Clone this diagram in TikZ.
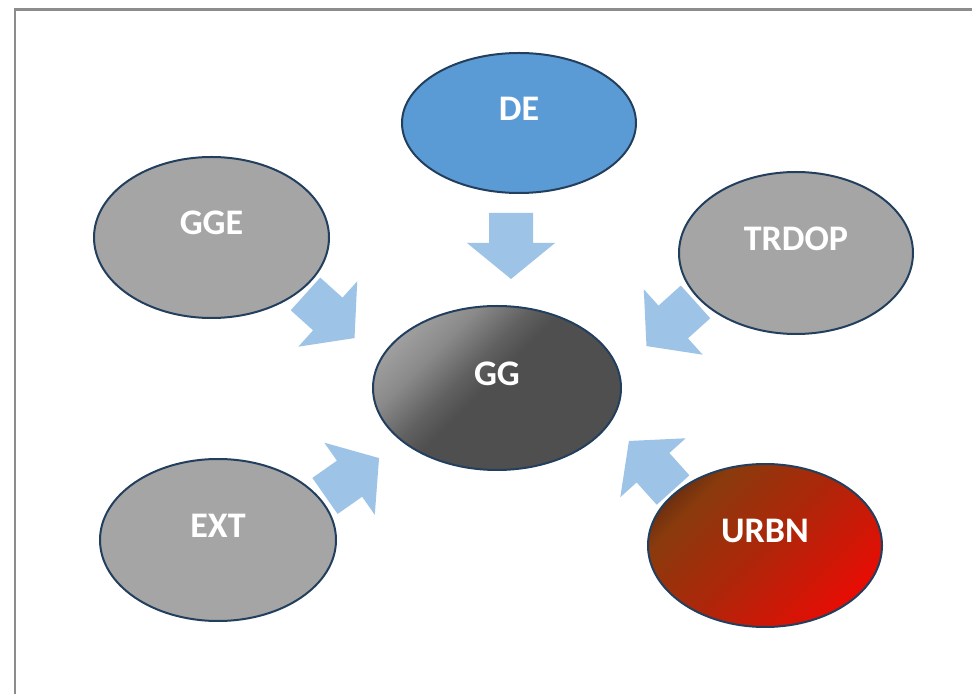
\documentclass[tikz,border=0pt]{standalone}
\usepackage{fontspec}
\setmainfont{Carlito}
\usetikzlibrary{shapes.geometric}
\definecolor{bubblegray}{HTML}{A5A5A5}
\definecolor{bubbleline}{HTML}{233F5E}
\definecolor{deblue}{HTML}{5B9BD5}
\definecolor{arrowblue}{HTML}{9DC3E6}
\definecolor{framegray}{HTML}{8C8C8C}
\pgfdeclarehorizontalshading{ggshading}{100bp}{color(0bp)=(black!30); color(20bp)=(black!33); color(33bp)=(black!46); color(42bp)=(black!62); color(48bp)=(black!69); color(100bp)=(black!69)}
\pgfdeclarehorizontalshading{urbnshading}{100bp}{rgb(0bp)=(0.30,0.14,0.07); rgb(20bp)=(0.34,0.15,0.07); rgb(30bp)=(0.54,0.23,0.05); rgb(50bp)=(0.68,0.15,0.04); rgb(70bp)=(0.86,0.07,0.02); rgb(84bp)=(1,0,0); rgb(100bp)=(1,0,0)}
\def\blockarrow(#1)(#2){\fill[arrowblue, shift={(#1)}, rotate=#2] (-33,-22) -- (-3,-22) -- (-3,-44) -- (33,0) -- (-3,44) -- (-3,22) -- (-33,22) -- cycle;}

\begin{document}
\begin{tikzpicture}[x=1pt, y=1pt,
	bubble/.style={ellipse, draw=bubbleline, line width=2pt, inner sep=0pt, text=white,
		font=\fontsize{36}{40}\selectfont\bfseries, text height=23pt, text depth=28pt},
	graybubble/.style={bubble, fill=bubblegray}]
			%%%%% START %%%%%
			\useasboundingbox (0,0) rectangle (972,694);
			
			\draw[line width=2.5, color=framegray] (15,0) -- (15,684.5) -- (972,684.5);
			
			\blockarrow(511,448)(-90)
			\blockarrow(330,378)(-42)
			\blockarrow(671,370)(222)
			\blockarrow(352,217)(35)
			\blockarrow(651,228.5)(132)
			
			\node[bubble, fill=deblue, minimum width=234, minimum height=140] (de) at (519,571) {DE};
			\node[graybubble, minimum width=235, minimum height=161] (gge) at (211.5,456.5) {GGE};
			\node[graybubble, minimum width=234, minimum height=162] (trdop) at (796,441) {TRDOP};
			\node[bubble, shading=ggshading, shading angle=-45, minimum width=248, minimum height=164] (gg) at (497,306) {GG};
			\node[graybubble, minimum width=236, minimum height=162] (ext) at (218,154) {EXT};
			\node[bubble, shading=urbnshading, shading angle=-45, minimum width=234, minimum height=163] (urbn) at (765,148.5) {URBN};
			
			%%%%% END %%%%%
\end{tikzpicture}
\end{document}
